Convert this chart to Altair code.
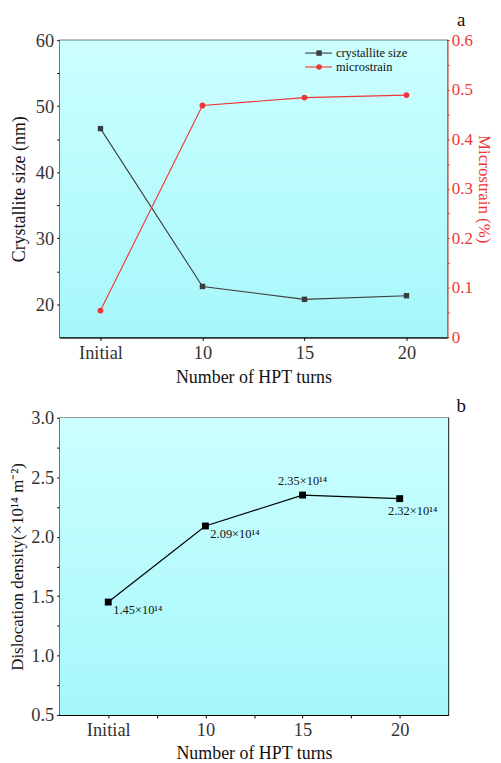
import altair as alt
import pandas as pd

# ---------------- data ----------------
turn_labels = ["Initial", "10", "15", "20"]
turn_pos = [0, 1, 2, 3]
crystallite_size = [46.6, 22.7, 20.75, 21.3]          # nm
microstrain = [0.054, 0.468, 0.484, 0.489]             # %
dislocation = [1.45, 2.09, 2.35, 2.32]                 # x10^14 m^-2
density_text = ["1.45×10¹⁴", "2.09×10¹⁴", "2.35×10¹⁴", "2.32×10¹⁴"]
density_place = ["below-right", "below-right", "above", "below"]

size_ticks = [20, 25, 30, 35, 40, 45, 50, 55, 60]
strain_ticks = [0, 0.05, 0.1, 0.15, 0.2, 0.25, 0.3, 0.35, 0.4, 0.45, 0.5, 0.55, 0.6]
density_ticks = [0.5, 0.75, 1.0, 1.25, 1.5, 1.75, 2.0, 2.25, 2.5, 2.75, 3.0]

df = pd.DataFrame({
    "pos": turn_pos,
    "turn": turn_labels,
    "size": crystallite_size,
    "strain": microstrain,
    "density": dislocation,
    "dtext": density_text,
    "place": density_place,
})
one = pd.DataFrame({"k": [0]})

FONT = "Liberation Serif"
W, H = 390, 299
GREY = "#3c3c3c"
RED = "#ee3535"

label_expr = "[" + ",".join("'%s'" % t for t in turn_labels) + "]"

bg_grad = alt.LinearGradient(
    gradient="linear",
    stops=[alt.GradientStop(color="#ccffff", offset=0),
           alt.GradientStop(color="#a6f7fa", offset=1)],
    x1=0, x2=0, y1=0, y2=1,
)

def background(w, h):
    return alt.Chart(one).mark_rect(color=bg_grad).encode(
        x=alt.value(0), x2=alt.value(w), y=alt.value(0), y2=alt.value(h)
    )

# ---------------- panel a ----------------
xa = alt.X("pos:Q", scale=alt.Scale(domain=[-0.4, 3.4], nice=False, zero=False),
           axis=alt.Axis(title="Number of HPT turns", values=turn_pos, grid=False,
                         labelExpr=label_expr + "[datum.value]",
                         tickSize=3, labelPadding=3, titlePadding=7))

ya = alt.Y("size:Q", scale=alt.Scale(domain=[15, 60], nice=False, zero=False),
           axis=alt.Axis(title="Crystallite size (nm)", values=size_ticks, grid=False,
                         labelExpr="datum.value % 10 == 0 ? datum.label : ''",
                         tickSize=3, labelPadding=3, titlePadding=7))

yb_strain = alt.Y("strain:Q", scale=alt.Scale(domain=[0, 0.6], nice=False),
                  axis=alt.Axis(title="Microstrain (%)", orient="right", values=strain_ticks,
                                grid=False, domainColor=RED, tickColor=RED,
                                labelColor=RED, titleColor=RED, tickSize=2,
                                labelPadding=2, titlePadding=2, labelFontSize=17,
                                titleFontSize=17,
                                labelExpr="round(datum.value*100) % 10 == 0 ? (datum.value == 0 ? '0' : format(datum.value, '.1f')) : ''"))

base_a = alt.Chart(df)
size_line = base_a.mark_line(color=GREY, strokeWidth=1.1).encode(x=xa, y=ya)
size_pts = base_a.mark_point(shape="square", filled=True, color=GREY, size=30, opacity=1).encode(x=xa, y=ya)

strain_line = base_a.mark_line(color=RED, strokeWidth=1.1).encode(x=xa, y=yb_strain)
strain_pts = base_a.mark_point(shape="circle", filled=True, color=RED, size=34, opacity=1).encode(x=xa, y=yb_strain)

# legend (decoration)
leg_x1, leg_x2, leg_mx, leg_tx = 247, 274, 261, 278
leg_rows = [(13, GREY, "square", "crystallite size"), (27, RED, "circle", "microstrain")]
legend_layers = []
for yy, col, shp, txt in leg_rows:
    legend_layers.append(alt.Chart(one).mark_rule(color=col, strokeWidth=1.1).encode(
        x=alt.value(leg_x1), x2=alt.value(leg_x2), y=alt.value(yy)))
    legend_layers.append(alt.Chart(one).mark_point(shape=shp, filled=True, color=col, size=30, opacity=1).encode(
        x=alt.value(leg_mx), y=alt.value(yy)))
    legend_layers.append(alt.Chart(one).mark_text(align="left", baseline="middle", font=FONT,
                                                  fontSize=12.5, color="#111").encode(
        x=alt.value(leg_tx), y=alt.value(yy), text=alt.value(txt)))

tag_a = alt.Chart(one).mark_text(font=FONT, fontSize=19, color="#111", baseline="middle").encode(
    x=alt.value(404), y=alt.value(-20), text=alt.value("a"))

left_a = alt.layer(background(W, H), size_line, size_pts, tag_a)
right_a = alt.layer(strain_line, strain_pts, *legend_layers)
panel_a = alt.layer(left_a, right_a).resolve_scale(y="independent").properties(width=W, height=H)

# ---------------- panel b ----------------
Wb, Hb = 391, 299
xb = alt.X("pos:Q", scale=alt.Scale(domain=[-0.5, 3.5], nice=False, zero=False),
           axis=alt.Axis(title="Number of HPT turns", values=[0, 0.5, 1, 1.5, 2, 2.5, 3], grid=False,
                         labelExpr="datum.value % 1 == 0 ? " + label_expr + "[datum.value] : ''",
                         tickSize=3, labelPadding=3, titlePadding=5))
yb = alt.Y("density:Q", scale=alt.Scale(domain=[0.5, 3.0], nice=False, zero=False),
           axis=alt.Axis(title="Dislocation density(×10¹⁴ m⁻²)", values=density_ticks, grid=False,
                         labelExpr="round(datum.value*100) % 50 == 0 ? format(datum.value, '.1f') : ''",
                         tickSize=3, labelPadding=3, titlePadding=4, titleFontSize=17))

base_b = alt.Chart(df)
d_line = base_b.mark_line(color="#000", strokeWidth=1.2).encode(x=xb, y=yb)
d_pts = base_b.mark_point(shape="square", filled=True, color="#000", size=48, opacity=1).encode(x=xb, y=yb)
txt_br = base_b.transform_filter("datum.place == 'below-right'").mark_text(
    align="left", baseline="middle", dx=5, dy=8, font=FONT, fontSize=12.5, color="#111"
).encode(x=xb, y=yb, text="dtext:N")
txt_ab = base_b.transform_filter("datum.place == 'above'").mark_text(
    align="center", baseline="middle", dx=0, dy=-14, font=FONT, fontSize=12.5, color="#111"
).encode(x=xb, y=yb, text="dtext:N")
txt_bl = base_b.transform_filter("datum.place == 'below'").mark_text(
    align="center", baseline="middle", dx=13, dy=12, font=FONT, fontSize=12.5, color="#111"
).encode(x=xb, y=yb, text="dtext:N")
tag_b = alt.Chart(one).mark_text(font=FONT, fontSize=19, color="#111", baseline="middle").encode(
    x=alt.value(404), y=alt.value(-12), text=alt.value("b"))

panel_b = alt.layer(background(Wb, Hb), d_line, d_pts, txt_br, txt_ab, txt_bl, tag_b).properties(width=Wb, height=Hb)

chart = alt.vconcat(panel_a, panel_b, spacing=8).properties(padding=0).configure_view(
    stroke="#000", strokeWidth=1.2
).configure_axis(
    labelFont=FONT, labelFontSize=18.5, labelColor="#333",
    titleFont=FONT, titleFontSize=18, titleFontWeight="normal", titleColor="#111",
    domainColor="#000", tickColor="#000", domainWidth=1.2,
)

chart.save("out.html", embed_options={"renderer": "svg", "actions": False})
